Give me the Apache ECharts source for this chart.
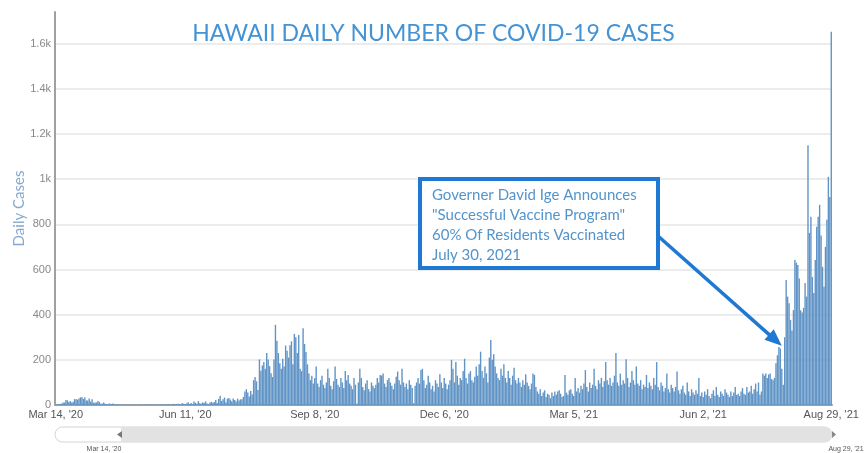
<!DOCTYPE html>
<html><head><meta charset="utf-8">
<script src="https://cdn.jsdelivr.net/npm/echarts@6/dist/echarts.min.js"></script>
<style>html,body{margin:0;padding:0;background:#fff}#c{width:867px;height:453px}</style>
</head><body><div id="c"></div>
<script>
// Daily new COVID-19 cases in Hawaii, Mar 14 2020 .. Aug 29 2021
const dailyCases = [
  2, 0, 4, 4, 6, 11, 11, 22, 21, 13,
  18, 11, 14, 26, 25, 24, 29, 34, 34, 27,
  33, 20, 20, 29, 15, 25, 10, 11, 11, 18,
  13, 6, 6, 11, 6, 4, 2, 7, 4, 6,
  6, 1, 2, 3, 0, 1, 2, 0, 1, 2,
  0, 1, 0, 1, 2, 0, 0, 1, 2, 0,
  1, 0, 2, 1, 0, 3, 1, 0, 2, 1,
  0, 2, 1, 3, 0, 2, 1, 4, 3, 2,
  1, 5, 3, 2, 6, 4, 2, 8, 6, 3,
  7, 12, 5, 9, 4, 15, 10, 6, 17, 8,
  5, 12, 9, 16, 7, 4, 11, 14, 10, 13,
  22, 9, 27, 41, 18, 25, 33, 12, 28, 31,
  24, 17, 29, 22, 15, 28, 20, 25, 26, 36,
  60, 70, 55, 38, 62, 47, 110, 124, 105, 66,
  202, 152, 175, 190, 160, 230, 201, 172, 141, 124,
  202, 355, 284, 230, 185, 160, 205, 170, 263, 240,
  210, 265, 282, 180, 315, 300, 230, 310, 160, 150,
  340, 270, 235, 180, 140, 110, 130, 95, 120, 170,
  95, 80, 110, 130, 90, 75, 100, 160, 120, 85,
  70, 105, 170, 115, 90, 80, 120, 100, 75, 150,
  110, 133, 95, 85, 70, 120, 90, 5, 100, 160,
  120, 80, 65, 95, 110, 70, 60, 100, 85, 75,
  90, 120, 100, 133, 130, 140, 95, 80, 110, 120,
  100, 85, 70, 95, 125, 148, 110, 90, 160, 100,
  80, 95, 70, 110, 90, 75, 8, 85, 100, 120,
  95, 155, 160, 110, 75, 90, 130, 100, 70, 85,
  60, 110, 95, 80, 136, 100, 75, 120, 95, 70,
  90, 110, 200, 160, 100, 190, 130, 90, 120, 110,
  150, 205, 120, 95, 140, 150, 110, 100, 125, 170,
  130, 180, 236, 150, 120, 170, 140, 100, 210, 288,
  200, 225, 170, 140, 120, 110, 160, 130, 180, 120,
  100, 150, 120, 90, 130, 165, 110, 95, 120, 100,
  80, 110, 90, 136, 100, 85, 70, 95, 140, 133,
  80, 60, 50, 70, 40, 55, 65, 35, 50, 45,
  30, 55, 40, 60, 45, 60, 65, 50, 35, 40,
  133, 55, 45, 65, 70, 50, 40, 120, 60, 75,
  55, 85, 70, 95, 155, 80, 60, 100, 75, 90,
  160, 85, 70, 110, 95, 120, 80, 105, 190, 110,
  90, 120, 85, 100, 130, 230, 100, 85, 140, 90,
  110, 95, 203, 120, 80, 100, 150, 110, 90, 170,
  95, 85, 110, 70, 90, 80, 133, 75, 100, 85,
  70, 120, 90, 190, 80, 65, 100, 85, 60, 75,
  140, 70, 55, 90, 75, 60, 80, 148, 65, 50,
  70, 85, 55, 45, 100, 60, 40, 70, 55, 45,
  65, 50, 120, 40, 55, 35, 60, 45, 70, 40,
  30, 50, 65, 40, 80, 45, 35, 60, 50, 40,
  70, 55, 45, 35, 60, 40, 55, 80, 45, 50,
  40, 60, 75, 50, 45, 80, 55, 60, 85, 50,
  70, 95, 60, 100, 45, 60, 140, 130, 140, 120,
  135, 140, 115, 110, 120, 185, 220, 257, 250, 160,
  90, 300, 553, 480, 450, 377, 330, 420, 642, 630,
  620, 560, 420, 410, 430, 540, 480, 1150, 762, 833,
  567, 496, 642, 789, 833, 886, 750, 612, 523, 700,
  820, 1010, 921, 1653
];
const startDay = [2020, 2, 14];
const tickLabels = ["Mar 14, '20", "Jun 11, '20", "Sep 8, '20", "Dec 6, '20", "Mar 5, '21", "Jun 2, '21", "Aug 29, '21"];
const rangeLabels = ["Mar 14, '20", "Aug 29, '21"];
const titleText = 'HAWAII DAILY NUMBER OF COVID-19 CASES';
const yAxisName = 'Daily Cases';
const noteLines = ['Governer David Ige Announces', '"Successful Vaccine Program"', '60% Of Residents Vaccinated', 'July 30, 2021'];
const arrowTarget = ["Jul 26, '21", 262];

const MONTHS = ['Jan','Feb','Mar','Apr','May','Jun','Jul','Aug','Sep','Oct','Nov','Dec'];
const categories = dailyCases.map((_, i) => {
  const d = new Date(Date.UTC(startDay[0], startDay[1], startDay[2] + i));
  return MONTHS[d.getUTCMonth()] + ' ' + d.getUTCDate() + ", '" + String(d.getUTCFullYear()).slice(2);
});

const chart = echarts.init(document.getElementById('c'), null, {renderer: 'canvas'});
const gridCol = '#e6e6e6';
chart.setOption({
  animation: false,
  backgroundColor: '#fff',
  title: {
    text: titleText, left: 'center', top: 17,
    textStyle: {color: '#4493d4', fontSize: 23, fontWeight: 'normal', fontFamily: 'Lato'}
  },
  grid: {left: 55, right: 35, top: 12, bottom: 48},
  xAxis: {
    type: 'category', data: categories, boundaryGap: true,
    axisLine: {lineStyle: {color: '#a0a0a0', width: 2}},
    axisTick: {show: false},
    axisLabel: {
      interval: (i, v) => tickLabels.includes(v),
      color: '#555', fontSize: 11, fontFamily: 'Liberation Sans', margin: 4
    },
    splitLine: {show: false}
  },
  yAxis: {
    type: 'value', min: 0, max: 1740, interval: 200,
    name: yAxisName, nameLocation: 'middle', nameGap: 28, nameMoveOverlap: false,
    nameTextStyle: {color: '#86a9cf', fontSize: 15, fontFamily: 'Lato'},
    axisLine: {show: true, lineStyle: {color: '#a0a0a0', width: 2}},
    axisTick: {show: false},
    axisLabel: {
      formatter: v => (v % 200 !== 0 ? '' : (v >= 1000 ? (v / 1000) + 'k' : String(v))),
      showMaxLabel: false, color: '#888', fontSize: 11, fontFamily: 'Liberation Sans', margin: 4
    },
    splitLine: {lineStyle: {width: 1.5, color: [gridCol, gridCol, gridCol, gridCol, gridCol, gridCol, gridCol, gridCol, gridCol, 'rgba(0,0,0,0)']}}
  },
  series: [{
    type: 'bar', data: dailyCases, barCategoryGap: '4%',
    itemStyle: {color: '#6194c6'}, clip: false
  }]
});

const tip = chart.convertToPixel({seriesIndex: 0}, arrowTarget);
const from = [658, 236];
const dx = tip[0] - from[0], dy = tip[1] - from[1];
const len = Math.sqrt(dx * dx + dy * dy);
const ux = dx / len, uy = dy / len;
const headL = 17, headW = 7;
const base = [tip[0] - ux * headL, tip[1] - uy * headL];
const arrowBlue = '#1f78d1';

const noteY0 = 195, noteStep = 20;
chart.setOption({
  graphic: [
    {type: 'line', z: 100, shape: {x1: from[0], y1: from[1], x2: base[0] + ux * 2, y2: base[1] + uy * 2},
      style: {stroke: arrowBlue, lineWidth: 3.5}},
    {type: 'polygon', z: 100, shape: {points: [tip, [base[0] - uy * headW, base[1] + ux * headW], [base[0] + uy * headW, base[1] - ux * headW]]},
      style: {fill: arrowBlue}},
    {type: 'rect', z: 100, shape: {x: 420, y: 179, width: 238, height: 89},
      style: {fill: '#fff', stroke: arrowBlue, lineWidth: 4}},
    ...noteLines.map((t, i) => ({
      type: 'text', z: 101, x: 432, y: noteY0 + i * noteStep,
      style: {text: t, fill: '#5394cb', font: '15px Lato', textVerticalAlign: 'middle', textAlign: 'left'}
    })),
    {type: 'rect', z: 10, shape: {x: 55, y: 427, width: 777, height: 15, r: 7.5},
      style: {fill: '#fff', stroke: '#d4d4d4', lineWidth: 1}},
    {type: 'rect', z: 11, shape: {x: 121, y: 427, width: 711, height: 15, r: [0, 7.5, 7.5, 0]},
      style: {fill: '#e2e2e2'}},
    {type: 'polygon', z: 12, shape: {points: [[117, 434.5], [122, 431], [122, 438]]}, style: {fill: '#777'}},
    {type: 'polygon', z: 12, shape: {points: [[836, 434.5], [832, 431], [832, 438]]}, style: {fill: '#888'}},
    {type: 'text', z: 12, x: 104, y: 449, style: {text: rangeLabels[0], fill: '#555', font: '7px Liberation Sans', textAlign: 'center', textVerticalAlign: 'middle'}},
    {type: 'text', z: 12, x: 846, y: 449, style: {text: rangeLabels[1], fill: '#555', font: '7px Liberation Sans', textAlign: 'center', textVerticalAlign: 'middle'}}
  ]
});
</script>
</body></html>
